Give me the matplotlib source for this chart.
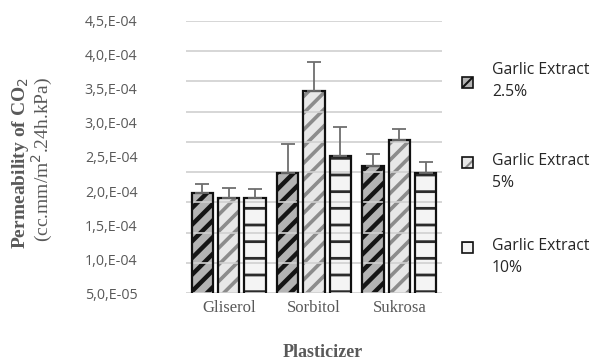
import numpy as np
import matplotlib.pyplot as plt
from matplotlib.patches import Rectangle

plasticizers = ['Gliserol', 'Sorbitol', 'Sukrosa']
series = ['Garlic Extract\n2.5%', 'Garlic Extract\n5%', 'Garlic Extract\n10%']

# CO2 permeability, one list per garlic extract level
perm_25 = [1.97e-4, 2.27e-4, 2.37e-4]
perm_5 = [1.90e-4, 3.47e-4, 2.75e-4]
perm_10 = [1.89e-4, 2.52e-4, 2.26e-4]

err_25 = [0.14e-4, 0.42e-4, 0.18e-4]
err_5 = [0.14e-4, 0.42e-4, 0.16e-4]
err_10 = [0.14e-4, 0.42e-4, 0.17e-4]

yticks = np.arange(0.5e-4, 4.51e-4, 0.5e-4)

gray = '#595959'
# face colour, hatch colour, hatch pattern, hatch width
styles = [('#b4b4b4', '#151515', '//', 3.2),
          ('#e8e8e8', '#8c8c8c', '//', 2.6),
          ('#f4f4f4', '#2b2b2b', '-', 2.0)]

fig = plt.figure(figsize=(5.93, 3.62), dpi=100)
ax = fig.add_axes([0.3137, 0.1906, 0.4317, 0.7514])

x = np.arange(len(plasticizers))
w = 0.25
offsets = [-0.31, 0, 0.31]
vals = [perm_25, perm_5, perm_10]
errs = [err_25, err_5, err_10]

for i in range(3):
    fc, hc, h, hw = styles[i]
    with plt.rc_context({'hatch.linewidth': hw}):
        ax.bar(x + offsets[i], vals[i], w, color=fc, edgecolor=hc,
               hatch=h, linewidth=0, zorder=2)
    ax.bar(x + offsets[i], vals[i], w, fill=False, edgecolor='#111111',
           linewidth=1.6, zorder=4)
    ax.errorbar(x + offsets[i], vals[i], yerr=[np.zeros(3), errs[i]], fmt='none',
                ecolor='#6e6e6e', elinewidth=1.3, capsize=5, capthick=1.3, zorder=5)

# horizontal grid over the bars
for g in np.linspace(0.5e-4, 4.5e-4, 10):
    ax.axhline(g, color='#d0d0d0', lw=1.2, zorder=3)

ax.set_xlim(-0.5, 2.5)
ax.set_ylim(0.5e-4, 4.5e-4)
ax.set_yticks(yticks)
ax.set_yticklabels([('%.1E' % t).replace('.', ',').replace('E', ',E')
                    for t in yticks], family='Open Sans', fontsize=10.3, color=gray)
ax.set_xticks(x)
ax.set_xticklabels(plasticizers, family='Liberation Serif', fontsize=12, color=gray)
ax.tick_params(axis='y', length=0, pad=35)
ax.tick_params(axis='x', length=0, pad=5)
for s in ax.spines.values():
    s.set_visible(False)

fig.text(0.545, 0.003, 'Plasticizer', family='Liberation Serif', fontweight='bold',
         fontsize=13, color=gray, ha='center', va='bottom')
fig.text(0.034, 0.55, 'Permeability of CO$_2$', family='Liberation Serif',
         fontweight='bold', fontsize=14, color=gray, rotation=90,
         ha='center', va='center')
fig.text(0.072, 0.56, '(cc.mm/m$^2$.24h.kPa)', family='Liberation Serif',
         fontsize=14, color=gray, rotation=90, ha='center', va='center')

# legend drawn by hand on the right
leg_y = [82, 162, 247]
txt_y = [81, 172, 257]
for i in range(3):
    fc, hc, h, hw = styles[i]
    y0 = 1 - (leg_y[i] + 6) / 362
    with plt.rc_context({'hatch.linewidth': 1.5}):
        fig.patches.append(Rectangle((462 / 593, y0), 11 / 593, 11 / 362,
                                     transform=fig.transFigure, facecolor=fc,
                                     edgecolor=hc, hatch=h, linewidth=0))
    fig.patches.append(Rectangle((462 / 593, y0), 11 / 593, 11 / 362,
                                 transform=fig.transFigure, fill=False,
                                 edgecolor='#111111', linewidth=1.2))
    fig.text(492 / 593, 1 - txt_y[i] / 362, series[i], family='Open Sans',
             fontsize=11.3, color='#262626', ha='left', va='center', linespacing=1.55)

fig.savefig('out.png', dpi=100)
